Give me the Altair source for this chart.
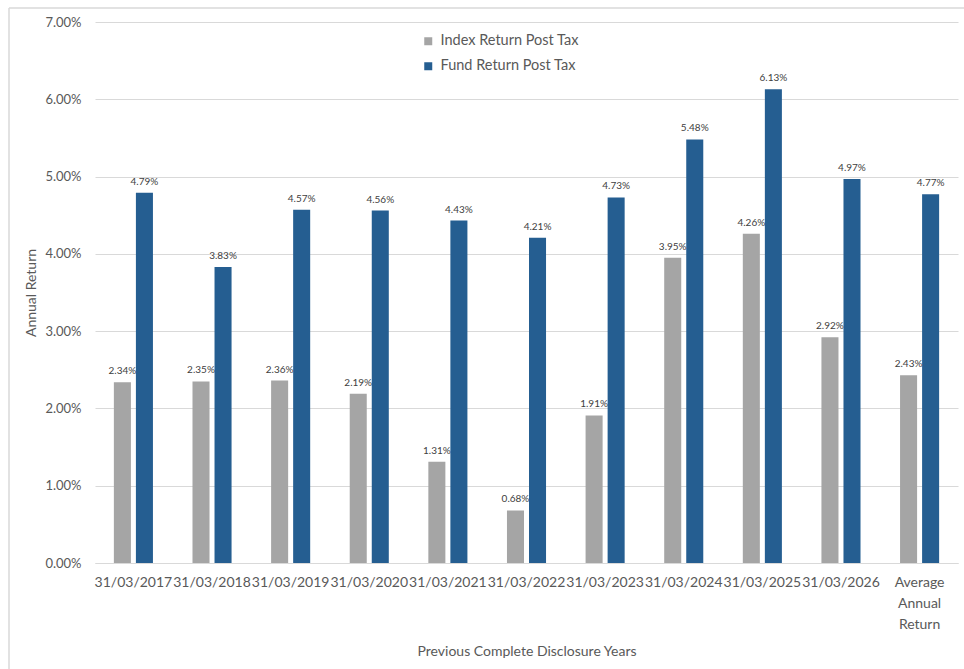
import altair as alt
import pandas as pd

# Disclosure-year categories and post-tax returns (as fractions)
categories = [
    "31/03/2017", "31/03/2018", "31/03/2019", "31/03/2020", "31/03/2021",
    "31/03/2022", "31/03/2023", "31/03/2024", "31/03/2025", "31/03/2026",
    "Average Annual Return",
]
index_returns = [0.0234, 0.0235, 0.0236, 0.0219, 0.0131, 0.0068, 0.0191,
                 0.0395, 0.0426, 0.0292, 0.0243]
fund_returns = [0.0479, 0.0383, 0.0457, 0.0456, 0.0443, 0.0421, 0.0473,
                0.0548, 0.0613, 0.0497, 0.0477]
series = ["Index Return Post Tax", "Fund Return Post Tax"]
colors = ["#A5A5A5", "#255E91"]

rows = []
for cat, iv, fv in zip(categories, index_returns, fund_returns):
    rows.append({"year": cat, "series": series[0], "value": iv})
    rows.append({"year": cat, "series": series[1], "value": fv})
df = pd.DataFrame(rows)

FONT = "Lato"
TEXT = "#595959"

x_enc = alt.X(
    "year:N",
    sort=categories,
    scale=alt.Scale(paddingInner=0.503, paddingOuter=0.24),
    axis=alt.Axis(
        title="Previous Complete Disclosure Years",
        labelAngle=0,
        labelFontSize=14,
        labelColor=TEXT,
        labelPadding=12,
        labelLineHeight=21,
        labelOverlap=False,
        labelLimit=0,
        labelExpr="datum.label == 'Average Annual Return' ? ['Average', 'Annual', 'Return'] : datum.label",
        ticks=False,
        grid=False,
        domain=True,
        domainColor="#D9D9D9",
        titleFontSize=14,
        titleFontWeight="normal",
        titleColor=TEXT,
        titlePadding=13,
    ),
)
xoff = alt.XOffset(
    "series:N",
    sort=series,
    scale=alt.Scale(paddingInner=0.227, paddingOuter=0),
)
y_enc = alt.Y(
    "value:Q",
    scale=alt.Scale(domain=[0, 0.07], nice=False),
    axis=alt.Axis(
        title="Annual Return",
        format=".2%",
        values=[0, 0.01, 0.02, 0.03, 0.04, 0.05, 0.06, 0.07],
        labelFontSize=13,
        labelColor=TEXT,
        labelPadding=14,
        ticks=False,
        domain=False,
        gridColor="#D9D9D9",
        titleFontSize=14,
        titleFontWeight="normal",
        titleColor=TEXT,
        titlePadding=6,
    ),
)

bars = alt.Chart(df).mark_bar().encode(
    x=x_enc,
    xOffset=xoff,
    y=y_enc,
    color=alt.Color(
        "series:N",
        sort=series,
        scale=alt.Scale(domain=series, range=colors),
        legend=alt.Legend(
            title=None,
            orient="none",
            legendX=326,
            legendY=12,
            symbolType="square",
            symbolSize=64,
            symbolStrokeWidth=0,
            labelFontSize=14.5,
            labelColor=TEXT,
            labelOffset=5,
            rowPadding=10,
        ),
    ),
)

labels = alt.Chart(df).mark_text(
    baseline="bottom", dy=-6, fontSize=10, color="#404040", font=FONT
).encode(
    x=x_enc,
    xOffset=xoff,
    y=y_enc,
    text=alt.Text("value:Q", format=".2%"),
)

# light frame lines along the top and left edges of the figure
frame_top = alt.Chart(pd.DataFrame({"k": [0]})).mark_rule(
    stroke="#D9D9D9", strokeWidth=1.5, clip=False
).encode(x=alt.value(-86), x2=alt.value(880), y=alt.value(-14))
frame_left = alt.Chart(pd.DataFrame({"k": [0]})).mark_rule(
    stroke="#D9D9D9", strokeWidth=1.5, clip=False
).encode(x=alt.value(-86), y=alt.value(-14), y2=alt.value(660))

chart = (
    alt.layer(frame_top, frame_left, bars, labels)
    .properties(
        width=863,
        height=541,
        padding={"left": 95, "top": 22, "right": 6, "bottom": 106},
        autosize=alt.AutoSizeParams(type="none"),
        background="white",
        view=alt.ViewBackground(stroke="transparent", strokeWidth=0),
    )
    .configure_view(stroke="transparent", strokeWidth=0)
    .configure_axis(domain=False)
    .configure_axisX(domain=True)
    .configure(font=FONT)
)

chart.save("out.html", embed_options={"renderer": "svg", "actions": False})
